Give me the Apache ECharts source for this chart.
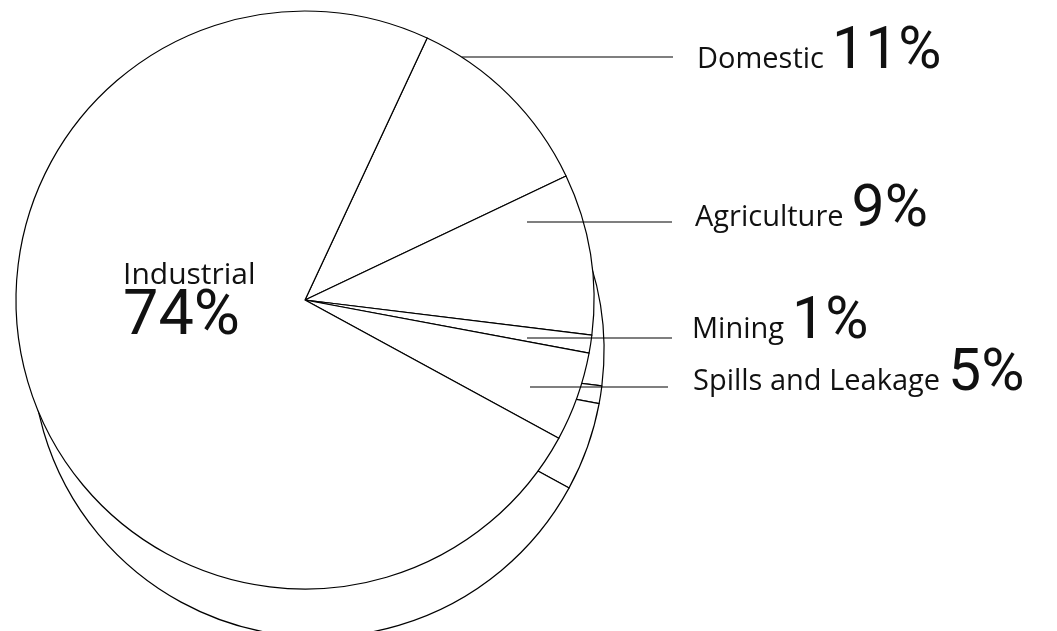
<!DOCTYPE html>
<html>
<head>
<meta charset="utf-8">
<script src="https://cdn.jsdelivr.net/npm/echarts@6/dist/echarts.min.js"></script>
<style>html,body{margin:0;padding:0;background:#fff;}#c{width:1057px;height:631px;}</style>
</head>
<body>
<div id="c"></div>
<script>
// ---- data ----
const categories = ['Domestic', 'Agriculture', 'Mining', 'Spills and Leakage', 'Industrial'];
const values = [11, 9, 1, 5, 74];
const percentLabels = ['11%', '9%', '1%', '5%', '74%'];

// ---- layout (label anchors, not data) ----
const labelPos = [
  { x: 697, y: 83, line: [[462, 57], [673, 57], [673, 57]] },
  { x: 695, y: 241, line: [[527, 222], [672, 222], [672, 222]] },
  { x: 692, y: 353, line: [[527, 338], [672, 338], [672, 338]] },
  { x: 693, y: 405, line: [[530, 387], [668, 387], [668, 387]] },
  { x: 123, y: 350, line: null }
];

const chart = echarts.init(document.getElementById('c'), null, { renderer: 'canvas' });

const pieData = categories.map((c, i) => ({ name: c, value: values[i] }));

const PFONT = 'Roboto, Liberation Sans';
const rich = {
  n: { fontFamily: 'Open Sans', fontSize: 29, lineHeight: 34, color: '#111', verticalAlign: 'bottom', padding: [0, 0, 9, 0] },
  p: { fontFamily: PFONT, fontWeight: 400, fontSize: 59, lineHeight: 52, color: '#111', verticalAlign: 'bottom', padding: [0, 0, 0, 8] },
  pi: { fontFamily: PFONT, fontWeight: 400, fontSize: 63, lineHeight: 60, color: '#111', verticalAlign: 'bottom' },
  ni: { fontFamily: 'Open Sans', fontSize: 30, lineHeight: 34, color: '#111', verticalAlign: 'bottom' }
};

const itemStyle = { color: '#fff', borderColor: '#000', borderWidth: 1.2 };
const topCenter = [305, 300];
const topRadius = 289;

chart.setOption({
  animation: false,
  backgroundColor: '#fff',
  series: [
    {
      // lower rim (depth of the tilted pie)
      type: 'pie',
      silent: true,
      z: 1,
      center: [318, 351],
      radius: 286,
      startAngle: 65,
      avoidLabelOverlap: false,
      label: { show: false },
      labelLine: { show: false },
      itemStyle: itemStyle,
      emphasis: { disabled: true },
      data: pieData
    },
    {
      // top face
      type: 'pie',
      silent: true,
      z: 2,
      center: topCenter,
      radius: topRadius,
      startAngle: 65,
      avoidLabelOverlap: false,
      label: { show: false },
      labelLine: { show: false },
      itemStyle: itemStyle,
      emphasis: { disabled: true },
      data: pieData
    },
    {
      // labels and leader lines on top
      type: 'pie',
      silent: true,
      z: 3,
      center: topCenter,
      radius: topRadius,
      startAngle: 65,
      avoidLabelOverlap: false,
      itemStyle: { color: 'rgba(0,0,0,0)', borderWidth: 0 },
      emphasis: { disabled: true },
      label: {
        show: true,
        position: 'outside',
        formatter: (p) => p.dataIndex === 4
          ? '{ni|' + p.name + '}\n{pi|' + percentLabels[p.dataIndex] + '}'
          : '{n|' + p.name + '}{p|' + percentLabels[p.dataIndex] + '}',
        rich: rich
      },
      labelLine: { show: true, lineStyle: { color: '#000', width: 1.2 } },
      labelLayout: (params) => {
        const L = labelPos[params.dataIndex];
        const o = { x: L.x, y: L.y, align: 'left', verticalAlign: 'bottom' };
        if (L.line) o.labelLinePoints = L.line;
        return o;
      },
      data: pieData.map((d, i) => i === 4 ? Object.assign({}, d, { labelLine: { show: false } }) : d)
    }
  ]
});
</script>
</body>
</html>
